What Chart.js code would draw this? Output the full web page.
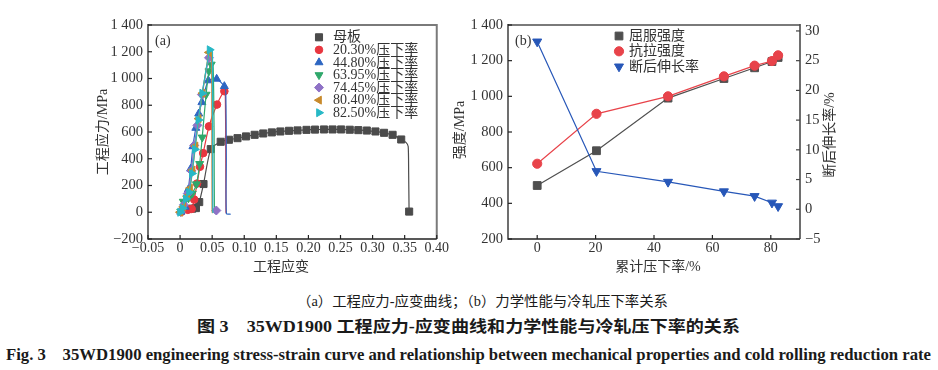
<!DOCTYPE html>
<html><head><meta charset="utf-8">
<script src="https://cdn.jsdelivr.net/npm/chart.js@4.4.1/dist/chart.umd.min.js"></script>
<style>
html,body{margin:0;padding:0;background:#fff;width:938px;height:370px;overflow:hidden;position:relative;}
#ca{position:absolute;left:0;top:0;}
#cb{position:absolute;left:450px;top:0;}
.cap{position:absolute;white-space:nowrap;color:#1a1a1a;transform-origin:0 50%;}
#c1{font:14px "Liberation Serif","Noto Sans CJK SC";line-height:16px;top:294px;}
#c2{font:bold 16px "Liberation Serif","Noto Sans CJK SC";line-height:18px;top:318px;}
#c3{font:bold 17px "Liberation Serif","Noto Sans CJK SC";line-height:18px;top:346px;}
</style></head>
<body>
<canvas id="ca" width="450" height="282"></canvas>
<canvas id="cb" width="400" height="282"></canvas>
<div class="cap" id="c1">（a）工程应力-应变曲线；（b）力学性能与冷轧压下率关系</div>
<div class="cap" id="c2">图 3　35WD1900 工程应力-应变曲线和力学性能与冷轧压下率的关系</div>
<div class="cap" id="c3">Fig. 3　35WD1900 engineering stress-strain curve and relationship between mechanical properties and cold rolling reduction rate</div>
<script>
// ---------------- DATA: chart (a) engineering stress-strain, [strain, stress MPa] ----------------
// head = points with markers, tail = line-only points, end = marker points after the tail
const parentHead = [[0.019,27],[0.0247,31],[0.0298,76],[0.0365,211],[0.0478,472],[0.0633,527],[0.0761,542],[0.0895,554],[0.1028,567],[0.1162,579],[0.1296,589],[0.143,597],[0.1563,604],[0.1697,609],[0.183,612],[0.197,616],[0.2103,618],[0.2242,619],[0.2376,619],[0.251,619],[0.2644,617],[0.2778,614],[0.291,611],[0.3045,604],[0.3179,594],[0.3312,579],[0.3446,544]];
const parentTail = [[0.352,522],[0.3555,492],[0.3562,300],[0.3568,40]];
const parentEnd  = [[0.357,5]];

const r20Head = [[0.002,3],[0.012,18],[0.018,25],[0.022,95],[0.0265,215],[0.031,340],[0.036,442],[0.045,642],[0.0575,805],[0.069,905]];
const r20Tail = [[0.0705,880],[0.0712,450],[0.0715,0],[0.0725,-10]];
const r20End  = [];

const r44Head = [[0.001,3],[0.008,40],[0.0128,170],[0.0165,325],[0.02,492],[0.0245,630],[0.029,737],[0.034,822],[0.044,985],[0.057,997],[0.069,942]];
const r44Tail = [[0.0712,900],[0.072,400],[0.0722,-10],[0.079,-15]];
const r44End  = [];

const r63Head = [[0.001,5],[0.005,80],[0.013,105],[0.019,140],[0.0255,210],[0.0305,362],[0.0345,560],[0.0405,880],[0.045,1055],[0.0485,1105]];
const r63Tail = [[0.0515,1090],[0.053,600],[0.0535,0],[0.0555,-10]];
const r63End  = [];

const r74Head = [[0.001,2],[0.006,55],[0.012,140],[0.0175,310],[0.022,500],[0.027,650],[0.034,880],[0.045,1155]];
const r74Tail = [[0.048,1160],[0.05,1000],[0.0505,20],[0.053,10]];
const r74End  = [[0.0565,13]];

const r80Head = [[0,0],[0.005,40],[0.011,120],[0.0155,180],[0.0195,315],[0.024,495],[0.029,700],[0.035,890],[0.045,1195]];
const r80Tail = [[0.0485,1195],[0.0495,1100],[0.05,0],[0.051,-5]];
const r80End  = [];

const r82Head = [[0,0],[0.004,30],[0.009,100],[0.014,150],[0.0185,290],[0.023,470],[0.0285,690],[0.0345,890],[0.046,1215]];
const r82Tail = [[0.048,1225],[0.049,1210],[0.0505,1200],[0.051,0],[0.052,-5]];
const r82End  = [];

const seriesLabelsA = ['母板','20.30%压下率','44.80%压下率','63.95%压下率','74.45%压下率','80.40%压下率','82.50%压下率'];

const strainTicks = [-0.05,0,0.05,0.10,0.15,0.20,0.25,0.30,0.35,0.40];
const strainTickLabels = ['−0.05','0','0.05','0.10','0.15','0.20','0.25','0.30','0.35','0.40'];
const stressTicks = [-200,0,200,400,600,800,1000,1200,1400];
const stressTickLabels = ['−200','0','200','400','600','800','1 000','1 200','1 400'];

// ---------------- DATA: chart (b) ----------------
const reduction = [0, 20.3, 44.8, 63.95, 74.45, 80.4, 82.5];
const yieldStrength = [500, 695, 990, 1100, 1160, 1195, 1218];
const tensileStrength = [622, 902, 1000, 1112, 1172, 1198, 1230];
const elongation = [28.2, 6.4, 4.6, 3.0, 2.2, 1.1, 0.5];
const seriesLabelsB = ['屈服强度','抗拉强度','断后伸长率'];

const reductionTicks = [0,20,40,60,80];
const reductionTickLabels = ['0','20','40','60','80'];
const strengthTicks = [200,400,600,800,1000,1200,1400];
const strengthTickLabels = ['200','400','600','800','1 000','1 200','1 400'];
const elongTicks = [-5,0,5,10,15,20,25,30];
const elongTickLabels = ['−5','0','5','10','15','20','25','30'];

// ---------------- styling ----------------
const FONT = '"Liberation Serif","Noto Sans CJK SC"';
const TXT = '#333';
const stylesA = [
  {color:'#4b4b4b', ps:'rect', rot:0, r:5},
  {color:'#e8363f', ps:'circle', rot:0, r:3.8},
  {color:'#2d66c2', ps:'triangle', rot:0, r:4.6},
  {color:'#2fa86b', ps:'triangle', rot:180, r:4.6},
  {color:'#8f72c6', ps:'rectRot', rot:0, r:4.5},
  {color:'#c88a2c', ps:'triangle', rot:270, r:4.6},
  {color:'#27b8c6', ps:'triangle', rot:90, r:4.6}
];
const partsA = [
  [parentHead,parentTail,parentEnd],[r20Head,r20Tail,r20End],[r44Head,r44Tail,r44End],
  [r63Head,r63Tail,r63End],[r74Head,r74Tail,r74End],[r80Head,r80Tail,r80End],[r82Head,r82Tail,r82End]
];

function marker(ctx, style, x, y, r, rot, color){
  ctx.save();
  ctx.fillStyle = color; ctx.strokeStyle = color; ctx.lineWidth = 1;
  ctx.translate(x,y); ctx.rotate((rot||0)*Math.PI/180);
  ctx.beginPath();
  if (style==='rect'){ const s=r*Math.SQRT1_2; ctx.rect(-s,-s,2*s,2*s); }
  else if (style==='circle'){ ctx.arc(0,0,r,0,Math.PI*2); }
  else if (style==='rectRot'){ ctx.moveTo(0,-r); ctx.lineTo(r,0); ctx.lineTo(0,r); ctx.lineTo(-r,0); ctx.closePath(); }
  else if (style==='triangle'){ for(let k=0;k<3;k++){ const a=-Math.PI/2+k*2*Math.PI/3; const px=Math.cos(a)*r, py=Math.sin(a)*r; k?ctx.lineTo(px,py):ctx.moveTo(px,py);} ctx.closePath(); }
  ctx.fill(); ctx.stroke(); ctx.restore();
}

const decor = {
  id:'decor',
  afterDraw(chart, args, o){
    const {ctx, chartArea:{left,right,top,bottom}} = chart;
    ctx.save();
    ctx.strokeStyle = '#7a7a7a'; ctx.lineWidth = 2;
    ctx.beginPath(); ctx.moveTo(left, top); ctx.lineTo(right, top); ctx.stroke();
    ctx.strokeStyle = o.rightColor; ctx.lineWidth = o.rightWidth;
    ctx.beginPath(); ctx.moveTo(right, top-1); ctx.lineTo(right, bottom); ctx.stroke();
    ctx.strokeStyle = '#222'; ctx.lineWidth = 1.3;
    ctx.beginPath(); ctx.moveTo(left, top-1); ctx.lineTo(left, bottom); ctx.lineTo(right, bottom); ctx.stroke();
    ctx.lineWidth = 1.2; ctx.strokeStyle = '#222';
    const xs = chart.scales.x;
    xs.ticks.forEach(t=>{ const p=xs.getPixelForValue(t.value); ctx.beginPath(); ctx.moveTo(p,bottom); ctx.lineTo(p,bottom-4); ctx.stroke(); });
    const ys = chart.scales.y;
    ys.ticks.forEach(t=>{ const p=ys.getPixelForValue(t.value); ctx.beginPath(); ctx.moveTo(left,p); ctx.lineTo(left+4,p); ctx.stroke(); });
    if (chart.scales.y2){ const s=chart.scales.y2; ctx.strokeStyle='#444';
      s.ticks.forEach(t=>{ const p=s.getPixelForValue(t.value); ctx.beginPath(); ctx.moveTo(right,p); ctx.lineTo(right-4,p); ctx.stroke(); }); }
    ctx.fillStyle = TXT; ctx.font = '14px '+FONT; ctx.textBaseline='middle'; ctx.textAlign='center';
    (o.titles||[]).forEach(t=>{ ctx.save(); ctx.translate(t.x,t.y); ctx.rotate(t.rot||0); ctx.fillText(t.text,0,0); ctx.restore(); });
    ctx.textAlign='left'; ctx.fillText(o.tag.text, o.tag.x, o.tag.y);
    o.legend.items.forEach((it,i)=>{
      const y = o.legend.y0 + i*o.legend.dy;
      marker(ctx, it.ps, o.legend.mx, y, it.r, it.rot, it.color);
      ctx.fillStyle = TXT; ctx.textAlign='left'; ctx.fillText(it.text, o.legend.tx, y+0.5);
    });
    ctx.restore();
  }
};

function fixedTicks(vals){ return s => { s.ticks = vals.map(v=>({value:v})); }; }
function tickFont(){ return {family:FONT, size:14}; }

// ---------------- chart (a) ----------------
new Chart(document.getElementById('ca'), {
  type:'line',
  data:{ datasets: partsA.map(([h,t,e],k)=>{
    const st = stylesA[k], nh=h.length, nt=t.length;
    return { label: seriesLabelsA[k], data: [...h,...t,...e].map(([x,y])=>({x,y})),
      borderColor: st.color, backgroundColor: st.color, pointBackgroundColor: st.color, pointBorderColor: st.color,
      borderWidth: 1.2, pointStyle: st.ps, rotation: st.rot, pointBorderWidth: 1,
      pointRadius: c => (c.dataIndex < nh || c.dataIndex >= nh+nt) ? st.r : 0,
      pointHoverRadius: 0, tension: 0.2, order: 7-k, clip: false };
  })},
  options:{
    responsive:false, animation:false, events:[],
    layout:{padding:{left:0, top:25, right:10, bottom:0}},
    plugins:{ legend:{display:false}, tooltip:{enabled:false},
      decor:{ rightColor:'#7a7a7a', rightWidth:2,
        titles:[{text:'工程应力/MPa', x:103, y:132, rot:-Math.PI/2},{text:'工程应变', x:281, y:267}],
        tag:{text:'(a)', x:155, y:41},
        legend:{mx:319, tx:333, y0:37.3, dy:12.57, items: stylesA.map((s,k)=>({...s, text:seriesLabelsA[k]}))}
      }},
    scales:{
      x:{type:'linear', min:-0.05, max:0.40, afterBuildTicks: fixedTicks(strainTicks),
        afterFit: s=>{ s.height = 43; },
        grid:{display:false, drawTicks:false}, border:{display:false},
        ticks:{autoSkip:false, maxRotation:0, padding:1, color:TXT, font:tickFont(), callback:(v,i)=>strainTickLabels[i]}},
      y:{type:'linear', min:-200, max:1400, afterBuildTicks: fixedTicks(stressTicks),
        afterFit: s=>{ s.width = 148; },
        grid:{display:false, drawTicks:false}, border:{display:false},
        ticks:{autoSkip:false, padding:5, color:TXT, font:{family:FONT, size:14.5}, callback:(v,i)=>stressTickLabels[i]}}
    }
  },
  plugins:[decor]
});

// ---------------- chart (b) ----------------
const stylesB = [
  {color:'#4f4f4f', ps:'rect', rot:0, r:5.5},
  {color:'#e8434a', ps:'circle', rot:0, r:4.6},
  {color:'#2757b8', ps:'triangle', rot:180, r:5.2}
];
const seriesB = [yieldStrength, tensileStrength, elongation];
new Chart(document.getElementById('cb'), {
  type:'line',
  data:{ datasets: seriesB.map((vals,k)=>{
    const st = stylesB[k];
    return { label: seriesLabelsB[k], data: reduction.map((x,i)=>({x, y:vals[i]})),
      yAxisID: k===2 ? 'y2' : 'y',
      borderColor: st.color, backgroundColor: st.color, pointBackgroundColor: st.color, pointBorderColor: st.color,
      borderWidth: 1.2, pointStyle: st.ps, rotation: st.rot, pointRadius: st.r, pointBorderWidth: 1,
      pointHoverRadius: 0, tension: 0, order: k===2 ? 1 : 2+(1-k), clip:false };
  })},
  options:{
    responsive:false, animation:false, events:[],
    layout:{padding:{left:0, top:25, right:0, bottom:0}},
    plugins:{ legend:{display:false}, tooltip:{enabled:false},
      decor:{ rightColor:'#4a4a4a', rightWidth:1.6,
        titles:[{text:'强度/MPa', x:10, y:130, rot:-Math.PI/2},{text:'累计压下率/%', x:208, y:267},{text:'断后伸长率/%', x:380, y:135, rot:-Math.PI/2}],
        tag:{text:'(b)', x:65, y:41},
        legend:{mx:169, tx:179, y0:36, dy:15.3, items: stylesB.map((s,k)=>({...s, text:seriesLabelsB[k]}))}
      }},
    scales:{
      x:{type:'linear', min:-10, max:90, afterBuildTicks: fixedTicks(reductionTicks),
        afterFit: s=>{ s.height = 43; },
        grid:{display:false, drawTicks:false}, border:{display:false},
        ticks:{autoSkip:false, maxRotation:0, padding:1, color:TXT, font:tickFont(), callback:(v,i)=>reductionTickLabels[i]}},
      y:{type:'linear', position:'left', min:200, max:1400, afterBuildTicks: fixedTicks(strengthTicks),
        afterFit: s=>{ s.width = 58; },
        grid:{display:false, drawTicks:false}, border:{display:false},
        ticks:{autoSkip:false, padding:5, color:TXT, font:{family:FONT, size:14.5}, callback:(v,i)=>strengthTickLabels[i]}},
      y2:{type:'linear', position:'right', min:-5, max:31, afterBuildTicks: fixedTicks(elongTicks),
        afterFit: s=>{ s.width = 50; },
        grid:{display:false, drawTicks:false}, border:{display:false},
        ticks:{autoSkip:false, padding:5, color:TXT, font:{family:FONT, size:14.5}, callback:(v,i)=>elongTickLabels[i]}}
    }
  },
  plugins:[decor]
});

// ---------------- caption fitting ----------------
[['c1',297,668],['c2',197,740],['c3',6,931]].forEach(([id,l,r])=>{
  const e=document.getElementById(id); e.style.left=l+'px';
  const w=e.getBoundingClientRect().width; e.style.transform='scaleX('+((r-l)/w)+')';
});
</script>
</body></html>
